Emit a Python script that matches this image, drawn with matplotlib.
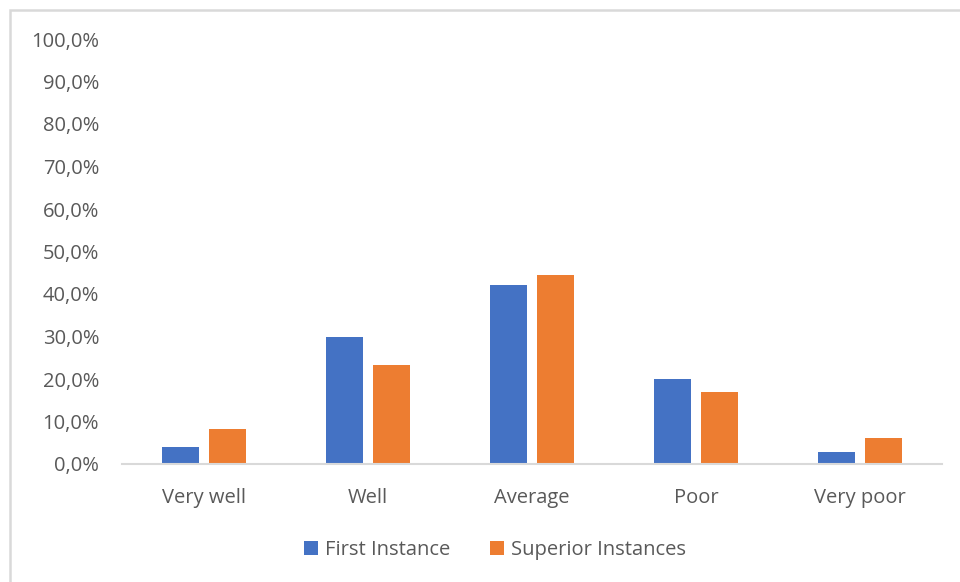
import matplotlib
matplotlib.use("Agg")
import matplotlib.pyplot as plt
from matplotlib.patches import Rectangle
from matplotlib.ticker import FuncFormatter
import numpy as np

categories = ["Very well", "Well", "Average", "Poor", "Very poor"]
first_instance = [4.0, 30.0, 42.1, 20.0, 2.9]
superior_instances = [8.2, 23.3, 44.5, 17.0, 6.2]
series_names = ["First Instance", "Superior Instances"]
y_ticks = np.arange(0, 101, 10)

plt.rcParams['font.family'] = ['Open Sans', 'DejaVu Sans']
text_color = "#595959"
blue = "#4472C4"
orange = "#ED7D31"
fs = 14.5

fig = plt.figure(figsize=(9.6, 5.82), dpi=100)
ax = fig.add_axes([122/960, 1 - 464/582, 820/960, 425/582])

x = np.arange(len(categories))
w = 0.225
off = 0.143
ax.bar(x - off, first_instance, w, color=blue, label=series_names[0])
ax.bar(x + off, superior_instances, w, color=orange, label=series_names[1])

ax.set_xlim(-0.5, len(categories) - 0.5)
ax.set_ylim(0, 100)
ax.set_yticks(y_ticks)
ax.yaxis.set_major_formatter(FuncFormatter(lambda v, p: f"{v:.1f}%".replace(".", ",")))
ax.set_xticks(x)
ax.set_xticklabels(categories)

for s in ["top", "right", "left"]:
    ax.spines[s].set_visible(False)
ax.spines["bottom"].set_color("#d9d9d9")
ax.spines["bottom"].set_linewidth(1.5)
ax.tick_params(axis="both", length=0, colors=text_color, labelsize=fs)
ax.tick_params(axis="y", pad=16.5)
ax.tick_params(axis="x", pad=17)

leg = fig.legend(loc="center", bbox_to_anchor=(495/960, 1 - 550/582), ncol=2,
                 frameon=False, fontsize=fs, handlelength=0.7, handleheight=0.7,
                 handletextpad=0.35, columnspacing=2.0)
for t in leg.get_texts():
    t.set_color(text_color)

fig.patches.append(Rectangle((10/960, -0.05), 1.0, 1 - 10/582 + 0.05, transform=fig.transFigure,
                             fill=False, edgecolor="#d9d9d9", linewidth=1.8))

fig.savefig("out.png", dpi=100)
